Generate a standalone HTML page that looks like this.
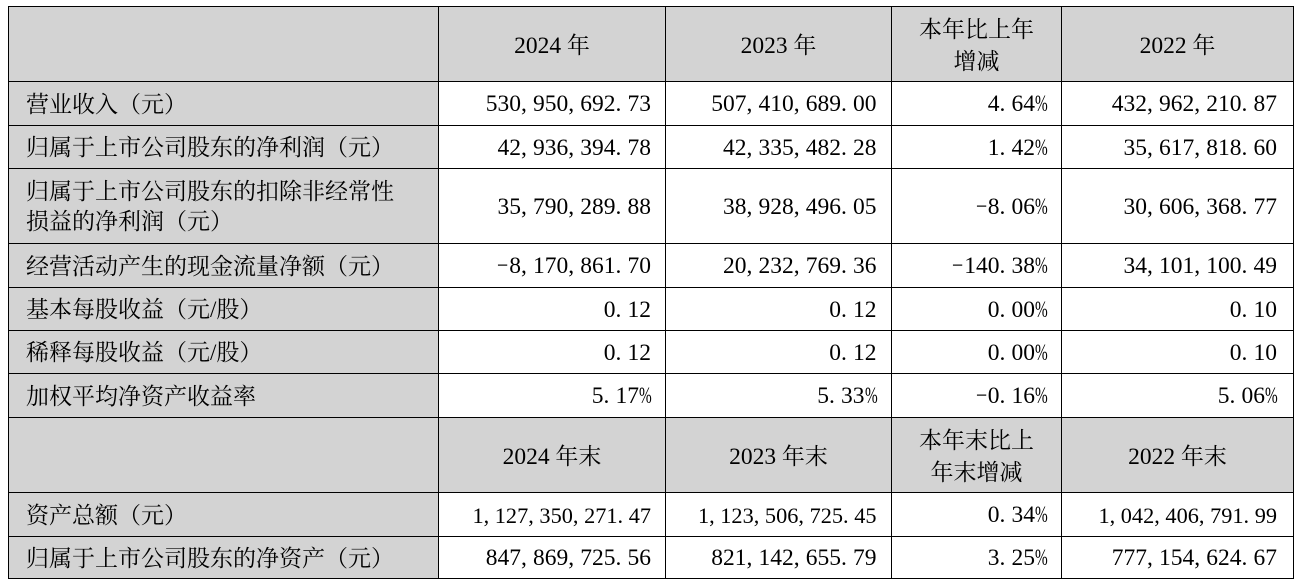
<!DOCTYPE html>
<html><head><meta charset="utf-8">
<style>
html,body{margin:0;padding:0}
body{width:1296px;height:588px;background:#fff;position:relative;overflow:hidden;font-family:"Liberation Serif","Noto Serif CJK SC","Noto Serif SC","Noto Serif CJK","Noto Serif CJK JP",serif;color:#000}
.g{position:absolute;background:#d3d3d3}
.hl{position:absolute;left:8px;width:1286px;height:1px;background:#000}
.vl{position:absolute;top:6px;height:573px;width:1px;background:#000}
.c{position:absolute;display:flex;align-items:center;box-sizing:border-box;white-space:nowrap}
.n{font-size:23.5px;justify-content:flex-end}
.l{font-size:23px;padding-left:17px;line-height:30px;padding-top:2px}
.h{font-size:23px;justify-content:center;text-align:center;line-height:32px;padding-top:3px}
.hy{font-size:23.5px}
i{font-style:normal;display:inline-block;width:12px;text-align:left}
s{text-decoration:none;display:inline-block;width:12px;transform:scaleX(0.65);transform-origin:0 50%}
i.m{text-align:left;width:12px;transform:scaleX(0.85);transform-origin:0 50%}
.sq{font-size:22.3px}
.sq i{width:11.2px}
.c1{left:439px;width:226px;padding-right:14px}
.c2{left:666px;width:225px;padding-right:14.5px}
.c3{left:892px;width:169px;padding-right:14px}
.c4{left:1062px;width:231px;padding-right:16px}
.c0{left:9px;width:429px}
.p1{padding-top:2px}
</style></head><body>
<div class="g" style="left:8px;top:6px;width:1285px;height:75px"></div>
<div class="g" style="left:8px;top:81px;width:430px;height:336px"></div>
<div class="g" style="left:8px;top:417px;width:1285px;height:75px"></div>
<div class="g" style="left:8px;top:492px;width:430px;height:86px"></div>

<div class="hl" style="top:6px"></div>
<div class="hl" style="top:81px"></div>
<div class="hl" style="top:125px"></div>
<div class="hl" style="top:168px"></div>
<div class="hl" style="top:243px"></div>
<div class="hl" style="top:287px"></div>
<div class="hl" style="top:330px"></div>
<div class="hl" style="top:373px"></div>
<div class="hl" style="top:417px"></div>
<div class="hl" style="top:492px"></div>
<div class="hl" style="top:536px"></div>
<div class="hl" style="top:578px"></div>
<div class="vl" style="left:8px"></div>
<div class="vl" style="left:438px"></div>
<div class="vl" style="left:665px"></div>
<div class="vl" style="left:891px"></div>
<div class="vl" style="left:1061px"></div>
<div class="vl" style="left:1293px"></div>

<div class="c h c1" style="top:7px;height:74px;padding-right:0"><span class="hy">2024</span>&nbsp;年</div>
<div class="c h c2" style="top:7px;height:74px;padding-right:0"><span class="hy">2023</span>&nbsp;年</div>
<div class="c h c3" style="top:7px;height:74px;padding-right:0">本年比上年<br>增减</div>
<div class="c h c4" style="top:7px;height:74px;padding-right:0"><span class="hy">2022</span>&nbsp;年</div>

<div class="c l c0" style="top:82px;height:43px">营业收入（元）</div>
<div class="c n c1 p1" style="top:82px;height:43px">530<i>,</i>950<i>,</i>692<i>.</i>73</div>
<div class="c n c2 p1" style="top:82px;height:43px">507<i>,</i>410<i>,</i>689<i>.</i>00</div>
<div class="c n c3 p1" style="top:82px;height:43px">4<i>.</i>64<s>%</s></div>
<div class="c n c4 p1" style="top:82px;height:43px">432<i>,</i>962<i>,</i>210<i>.</i>87</div>

<div class="c l c0" style="top:126px;height:42px">归属于上市公司股东的净利润（元）</div>
<div class="c n c1 p1" style="top:126px;height:42px">42<i>,</i>936<i>,</i>394<i>.</i>78</div>
<div class="c n c2 p1" style="top:126px;height:42px">42<i>,</i>335<i>,</i>482<i>.</i>28</div>
<div class="c n c3 p1" style="top:126px;height:42px">1<i>.</i>42<s>%</s></div>
<div class="c n c4 p1" style="top:126px;height:42px">35<i>,</i>617<i>,</i>818<i>.</i>60</div>

<div class="c l c0" style="top:169px;height:74px">归属于上市公司股东的扣除非经常性<br>损益的净利润（元）</div>
<div class="c n c1 p1" style="top:169px;height:74px">35<i>,</i>790<i>,</i>289<i>.</i>88</div>
<div class="c n c2 p1" style="top:169px;height:74px">38<i>,</i>928<i>,</i>496<i>.</i>05</div>
<div class="c n c3 p1" style="top:169px;height:74px"><i class="m">−</i>8<i>.</i>06<s>%</s></div>
<div class="c n c4 p1" style="top:169px;height:74px">30<i>,</i>606<i>,</i>368<i>.</i>77</div>

<div class="c l c0" style="top:244px;height:43px">经营活动产生的现金流量净额（元）</div>
<div class="c n c1 p1" style="top:244px;height:43px"><i class="m">−</i>8<i>,</i>170<i>,</i>861<i>.</i>70</div>
<div class="c n c2 p1" style="top:244px;height:43px">20<i>,</i>232<i>,</i>769<i>.</i>36</div>
<div class="c n c3 p1" style="top:244px;height:43px"><i class="m">−</i>140<i>.</i>38<s>%</s></div>
<div class="c n c4 p1" style="top:244px;height:43px">34<i>,</i>101<i>,</i>100<i>.</i>49</div>

<div class="c l c0" style="top:288px;height:42px">基本每股收益（元/股）</div>
<div class="c n c1 p1" style="top:288px;height:42px">0<i>.</i>12</div>
<div class="c n c2 p1" style="top:288px;height:42px">0<i>.</i>12</div>
<div class="c n c3 p1" style="top:288px;height:42px">0<i>.</i>00<s>%</s></div>
<div class="c n c4 p1" style="top:288px;height:42px">0<i>.</i>10</div>

<div class="c l c0" style="top:331px;height:42px">稀释每股收益（元/股）</div>
<div class="c n c1 p1" style="top:331px;height:42px">0<i>.</i>12</div>
<div class="c n c2 p1" style="top:331px;height:42px">0<i>.</i>12</div>
<div class="c n c3 p1" style="top:331px;height:42px">0<i>.</i>00<s>%</s></div>
<div class="c n c4 p1" style="top:331px;height:42px">0<i>.</i>10</div>

<div class="c l c0" style="top:374px;height:43px">加权平均净资产收益率</div>
<div class="c n c1 p1" style="top:374px;height:43px">5<i>.</i>17<s>%</s></div>
<div class="c n c2 p1" style="top:374px;height:43px">5<i>.</i>33<s>%</s></div>
<div class="c n c3 p1" style="top:374px;height:43px"><i class="m">−</i>0<i>.</i>16<s>%</s></div>
<div class="c n c4 p1" style="top:374px;height:43px">5<i>.</i>06<s>%</s></div>

<div class="c h c1" style="top:418px;height:74px;padding-right:0"><span class="hy">2024</span>&nbsp;年末</div>
<div class="c h c2" style="top:418px;height:74px;padding-right:0"><span class="hy">2023</span>&nbsp;年末</div>
<div class="c h c3" style="top:418px;height:74px;padding-right:0">本年末比上<br>年末增减</div>
<div class="c h c4" style="top:418px;height:74px;padding-right:0"><span class="hy">2022</span>&nbsp;年末</div>

<div class="c l c0" style="top:493px;height:43px">资产总额（元）</div>
<div class="c n c1 p1 sq" style="top:493px;height:43px">1<i>,</i>127<i>,</i>350<i>,</i>271<i>.</i>47</div>
<div class="c n c2 p1 sq" style="top:493px;height:43px">1<i>,</i>123<i>,</i>506<i>,</i>725<i>.</i>45</div>
<div class="c n c3 p1" style="top:493px;height:43px">0<i>.</i>34<s>%</s></div>
<div class="c n c4 p1 sq" style="top:493px;height:43px">1<i>,</i>042<i>,</i>406<i>,</i>791<i>.</i>99</div>

<div class="c l c0" style="top:537px;height:41px">归属于上市公司股东的净资产（元）</div>
<div class="c n c1 p1" style="top:537px;height:41px">847<i>,</i>869<i>,</i>725<i>.</i>56</div>
<div class="c n c2 p1" style="top:537px;height:41px">821<i>,</i>142<i>,</i>655<i>.</i>79</div>
<div class="c n c3 p1" style="top:537px;height:41px">3<i>.</i>25<s>%</s></div>
<div class="c n c4 p1" style="top:537px;height:41px">777<i>,</i>154<i>,</i>624<i>.</i>67</div>
</body></html>
